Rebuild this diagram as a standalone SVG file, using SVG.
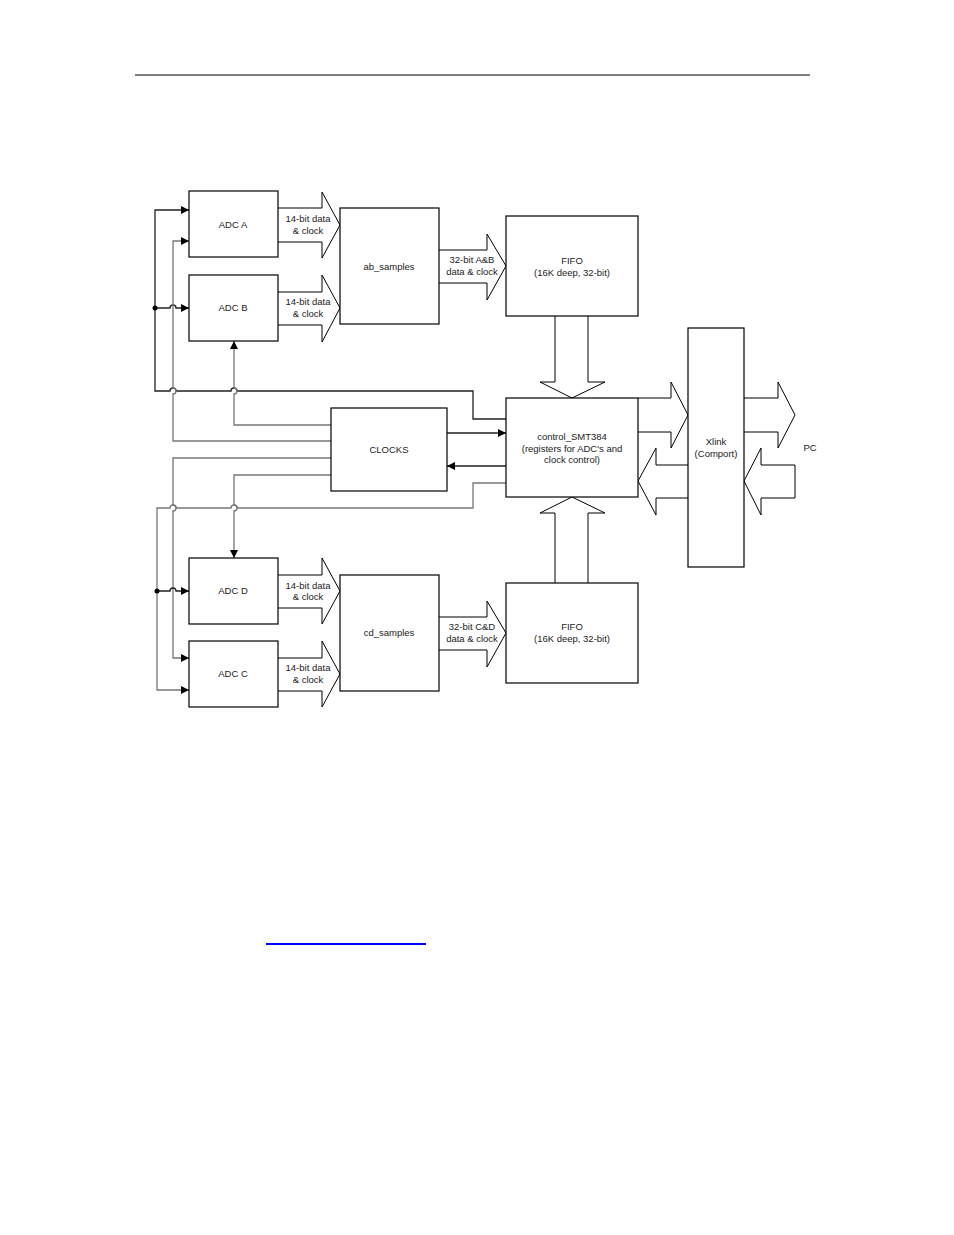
<svg xmlns="http://www.w3.org/2000/svg" width="954" height="1235" viewBox="0 0 954 1235">
<style>
.b{fill:#fff;stroke:#000;stroke-width:1.2}
.fa{fill:#fff;stroke:#000;stroke-width:1}
.w{fill:none;stroke:#222;stroke-width:1.3}
.g{fill:none;stroke:#777;stroke-width:1.3}
text{font-family:"Liberation Sans",Arial,sans-serif;font-size:9.5px;text-anchor:middle;fill:#222}
</style>
<defs>
<marker id="ar" viewBox="0 0 10 10" refX="10" refY="5" markerWidth="8" markerHeight="8" markerUnits="userSpaceOnUse" orient="auto"><path d="M0,0L10,5L0,10z" fill="#000"/></marker>
</defs>
<rect width="954" height="1235" fill="#fff"/>
<line x1="135" y1="75" x2="810" y2="75" stroke="#000" stroke-width="1"/>
<line x1="266" y1="944" x2="426" y2="944" stroke="#00f" stroke-width="2"/>
<g id="connectors">
<path class="fa" d="M278,208H322V192L340,225L322,258V242H278"/>
<path class="fa" d="M278,292H322V275L340,308L322,342V325H278"/>
<path class="fa" d="M278,575H322V558L340,591L322,624V608H278"/>
<path class="fa" d="M278,658H322V641L340,674L322,707V691H278"/>
<path class="fa" d="M439,250H487V234L506,266L487,300V283H439"/>
<path class="fa" d="M439,617H487V601L506,633L487,667V650H439"/>
<path class="fa" d="M555,316V382H540L572,398L605,382H588V316"/>
<path class="fa" d="M555,583V513H540L572,497L605,513H588V583"/>
<path class="fa" d="M638,398H671V382L688,415L671,448V432H638"/>
<path class="fa" d="M688,465H656V448L638,481L656,515V498H688"/>
<path class="fa" d="M744,398H778V382L795,415L778,448V432H744"/>
<path class="fa" d="M795,465H761V448L744,481L761,515V498H795Z"/>
<path class="w" d="M506,419H473V391H237a3,3 0 0 0 -6,0H176a3,3 0 0 0 -6,0H155V210H189" marker-end="url(#ar)"/>
<path class="w" d="M155,308H170a3,3 0 0 1 6,0H189" marker-end="url(#ar)"/>
<circle cx="155" cy="308" r="2.5"/>
<path class="g" d="M331,441H173V394a3,3 0 0 0 0,-6V241H189" marker-end="url(#ar)"/>
<path class="g" d="M331,425H234V394a3,3 0 0 0 0,-6V341" marker-end="url(#ar)"/>
<path class="w" d="M447,433H506" marker-end="url(#ar)"/>
<path class="w" d="M506,466H447" marker-end="url(#ar)"/>
<path class="g" d="M331,458H173V505a3,3 0 0 1 0,6V658H189" marker-end="url(#ar)"/>
<path class="g" d="M331,475H234V505a3,3 0 0 1 0,6V558" marker-end="url(#ar)"/>
<path class="g" d="M506,483H473V508H237a3,3 0 0 0 -6,0H176a3,3 0 0 0 -6,0H157V690H189" marker-end="url(#ar)"/>
<path class="w" d="M157,591H170a3,3 0 0 1 6,0H189" marker-end="url(#ar)"/>
<circle cx="157" cy="591" r="2.5"/>
</g>
<g id="adcA"><rect class="b" x="189" y="191" width="89" height="66"/><text x="233" y="228">ADC A</text></g>
<g id="adcB"><rect class="b" x="189" y="275" width="89" height="66"/><text x="233" y="311">ADC B</text></g>
<g id="adcD"><rect class="b" x="189" y="558" width="89" height="66"/><text x="233" y="594">ADC D</text></g>
<g id="adcC"><rect class="b" x="189" y="641" width="89" height="66"/><text x="233" y="677">ADC C</text></g>
<g id="ab"><rect class="b" x="340" y="208" width="99" height="116"/><text x="389" y="270">ab_samples</text></g>
<g id="cd"><rect class="b" x="340" y="575" width="99" height="116"/><text x="389" y="636">cd_samples</text></g>
<g id="fifo1"><rect class="b" x="506" y="216" width="132" height="100"/><text x="572" y="264">FIFO</text><text x="572" y="276">(16K deep, 32-bit)</text></g>
<g id="fifo2"><rect class="b" x="506" y="583" width="132" height="100"/><text x="572" y="630">FIFO</text><text x="572" y="642">(16K deep, 32-bit)</text></g>
<g id="control"><rect class="b" x="506" y="398" width="132" height="99"/><text x="572" y="440">control_SMT384</text><text x="572" y="452">(registers for ADC's and</text><text x="572" y="463">clock control)</text></g>
<g id="clocks"><rect class="b" x="331" y="408" width="116" height="83"/><text x="389" y="453">CLOCKS</text></g>
<g id="xlink"><rect class="b" x="688" y="328" width="56" height="239"/><text x="716" y="445">Xlink</text><text x="716" y="457">(Comport)</text></g>
<g id="labels">
<text x="308" y="222">14-bit data</text><text x="308" y="234">&amp; clock</text>
<text x="308" y="305">14-bit data</text><text x="308" y="317">&amp; clock</text>
<text x="308" y="589">14-bit data</text><text x="308" y="600">&amp; clock</text>
<text x="308" y="671">14-bit data</text><text x="308" y="683">&amp; clock</text>
<text x="472" y="263">32-bit A&amp;B</text><text x="472" y="275">data &amp; clock</text>
<text x="472" y="630">32-bit C&amp;D</text><text x="472" y="642">data &amp; clock</text>
<text x="810" y="451">PC</text>
</g>
</svg>
